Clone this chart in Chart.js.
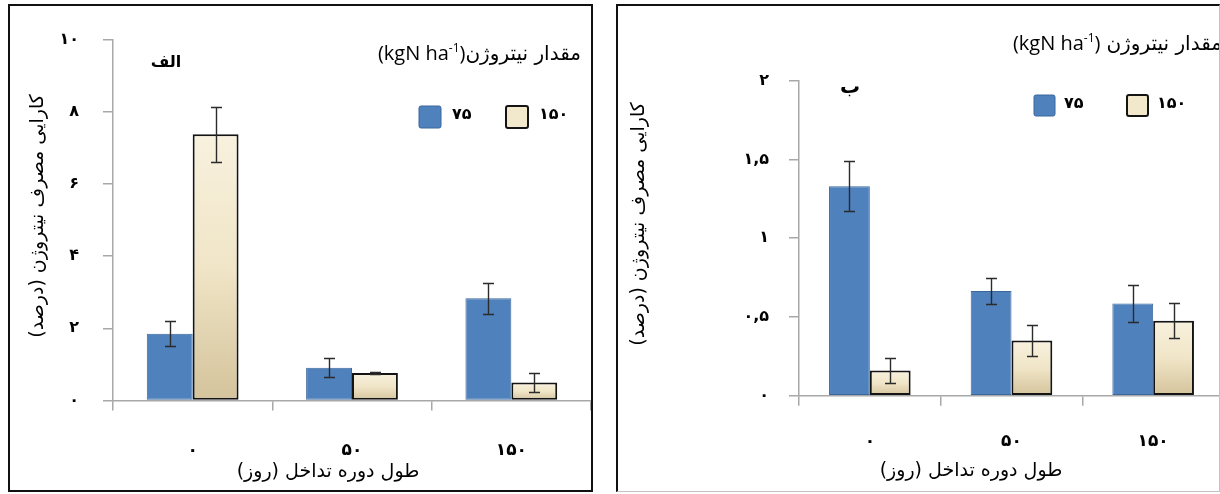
<!DOCTYPE html>
<html lang="fa">
<head>
<meta charset="utf-8">
<title>کارایی مصرف نیتروژن</title>
<script src="https://cdn.jsdelivr.net/npm/chart.js@4.4.1/dist/chart.umd.min.js"></script>
<style>
  html, body { margin: 0; padding: 0; background: #fff; }
  body { width: 1220px; height: 494px; position: relative; overflow: hidden; }
  .panel { position: absolute; box-sizing: border-box; overflow: hidden; background: #fff; }
  #panelA { left: 8px; top: 4px; width: 585px; height: 488px; border: 2px solid #111; }
  #panelB { left: 616px; top: 4px; width: 604px; height: 488px;
            border-left: 2px solid #111; border-top: 2px solid #111;
            border-right: 1px solid #c4c4c4; border-bottom: 1px solid #c4c4c4; }
  .panel canvas { position: absolute; left: 0; top: 0; }
</style>
</head>
<body>
<div class="panel" id="panelA"><canvas id="chartA" width="581" height="484"></canvas></div>
<div class="panel" id="panelB"><canvas id="chartB" width="606" height="484"></canvas></div>
<script>
// Interference period (days) and nitrogen rates (kgN/ha)
const categories = ['۰', '۵۰', '۱۵۰'];
const seriesNames = ['۷۵', '۱۵۰'];

// Panel الف: nitrogen use efficiency (%) with standard errors
const effA75  = [1.85, 0.91, 2.83];
const errA75  = [0.35, 0.27, 0.42];
const effA150 = [7.38, 0.76, 0.50];
const errA150 = [0.76, 0.03, 0.27];

// Panel ب
const effB75  = [1.33, 0.665, 0.585];
const errB75  = [0.16, 0.083, 0.12];
const effB150 = [0.16, 0.35, 0.476];
const errB150 = [0.08, 0.10, 0.11];

// Axis tick labels (Persian digits)
const yTicksA = ['۰', '۲', '۴', '۶', '۸', '۱۰'];
const yTicksB = ['۰', '۰,۵', '۱', '۱,۵', '۲'];

const yTitle = 'کارایی مصرف نیتروژن (درصد)';
const xTitle = 'طول دوره تداخل (روز)';
const legendHeading = 'مقدار نیتروژن';
const unitMain = '(kgN ha';
const unitSup = '-1';
const unitClose = ')';

const FONT = "'DejaVu Sans', 'Noto Sans', sans-serif";
const LATIN = "'Open Sans', 'DejaVu Sans', sans-serif";
const AXIS_GREY = '#a8a8a8';
const BLUE = '#4f81bd';
const BLUE_EDGE = '#3a679c';
const CREAM = '#f2e8cc';

Chart.defaults.font.family = FONT;
Chart.defaults.color = '#000';

// Cream bars shade from light at the top to tan at the base
function creamFill(c) {
  const chart = c.chart;
  if (!chart.chartArea || c.raw == null) return CREAM;
  const ys = chart.scales.y;
  const top = ys.getPixelForValue(c.raw);
  const base = ys.getPixelForValue(0);
  if (!(base > top)) return CREAM;
  const g = chart.ctx.createLinearGradient(0, top, 0, base);
  g.addColorStop(0, '#f8f1de');
  g.addColorStop(0.5, '#f0e5c7');
  g.addColorStop(1, '#d4c39b');
  return g;
}

// Error bars drawn from each dataset's "errors" through the y scale
const errorBars = {
  id: 'errorBars',
  afterDatasetsDraw(chart, args, o) {
    const ctx = chart.ctx;
    const ys = chart.scales.y;
    ctx.save();
    ctx.strokeStyle = o.color;
    ctx.lineWidth = o.width;
    chart.data.datasets.forEach((ds, i) => {
      const meta = chart.getDatasetMeta(i);
      meta.data.forEach((bar, j) => {
        const v = ds.data[j], e = ds.errors[j];
        const y1 = Math.round(ys.getPixelForValue(v + e)) + 0.5;
        const y2 = Math.round(ys.getPixelForValue(v - e)) + 0.5;
        const x = Math.round(bar.x) + 0.5;
        const h = o.cap / 2;
        ctx.beginPath();
        ctx.moveTo(x, y1); ctx.lineTo(x, y2);
        ctx.moveTo(x - h, y1); ctx.lineTo(x + h, y1);
        ctx.moveTo(x - h, y2); ctx.lineTo(x + h, y2);
        ctx.stroke();
      });
    });
    ctx.restore();
  }
};

// Legend block: heading with unit, then a swatch and label per dataset
const panelLegend = {
  id: 'panelLegend',
  afterDraw(chart, args, o) {
    const ctx = chart.ctx;
    ctx.save();
    ctx.fillStyle = '#000';
    ctx.textBaseline = 'alphabetic';

    // Persian heading, right aligned
    ctx.direction = 'rtl';
    ctx.textAlign = 'right';
    ctx.font = o.headFont;
    ctx.fillText(legendHeading, o.titleRight, o.titleBase);
    const headW = ctx.measureText(legendHeading).width;

    // Unit to its left: (kgN ha^-1)
    ctx.direction = 'ltr';
    ctx.textAlign = 'left';
    ctx.font = o.unitFont;
    const wMain = ctx.measureText(unitMain).width;
    const wClose = ctx.measureText(unitClose).width;
    ctx.font = o.supFont;
    const wSup = ctx.measureText(unitSup).width;
    let x = o.titleRight - headW - o.unitGap - (wMain + wSup + wClose);
    ctx.font = o.unitFont;
    ctx.fillText(unitMain, x, o.titleBase);
    x += wMain;
    ctx.font = o.supFont;
    ctx.fillText(unitSup, x, o.titleBase - o.supRise);
    x += wSup;
    ctx.font = o.unitFont;
    ctx.fillText(unitClose, x, o.titleBase);

    ctx.textBaseline = 'middle';
    chart.data.datasets.forEach((ds, i) => {
      const bx = o.itemX + i * o.itemGap;
      const by = o.boxTop;
      ctx.beginPath();
      if (ctx.roundRect) ctx.roundRect(bx, by, o.box, o.box, 2); else ctx.rect(bx, by, o.box, o.box);
      ctx.fillStyle = ds.legendFill;
      ctx.fill();
      ctx.lineWidth = ds.legendEdgeWidth;
      ctx.strokeStyle = ds.legendEdge;
      ctx.stroke();
      ctx.fillStyle = '#000';
      ctx.font = o.itemFont;
      ctx.textAlign = 'left';
      ctx.fillText(ds.label, bx + o.box + o.textGap, by + o.box / 2 - 2);
    });
    ctx.restore();
  }
};

// Free text: panel letter and axis titles
const panelText = {
  id: 'panelText',
  afterDraw(chart, args, o) {
    const ctx = chart.ctx;
    o.items.forEach(t => {
      ctx.save();
      ctx.translate(t.x, t.y);
      if (t.rot) ctx.rotate(t.rot);
      ctx.font = t.font;
      ctx.fillStyle = '#000';
      ctx.direction = 'rtl';
      ctx.textAlign = 'center';
      ctx.textBaseline = 'middle';
      ctx.fillText(t.text, 0, 0);
      ctx.restore();
    });
  }
};

function datasets(v75, e75, v150, e150) {
  return [
    {
      label: seriesNames[0], data: v75, errors: e75,
      backgroundColor: BLUE, borderColor: BLUE_EDGE, borderWidth: 1, borderSkipped: false,
      legendFill: BLUE, legendEdge: BLUE_EDGE, legendEdgeWidth: 1
    },
    {
      label: seriesNames[1], data: v150, errors: e150,
      backgroundColor: creamFill, borderColor: '#141414', borderWidth: 2, borderSkipped: false,
      legendFill: CREAM, legendEdge: '#141414', legendEdgeWidth: 2
    }
  ];
}

function makeChart(id, cfg) {
  return new Chart(document.getElementById(id), {
    type: 'bar',
    data: { labels: categories, datasets: datasets(...cfg.series) },
    plugins: [errorBars, panelLegend, panelText],
    options: {
      responsive: false,
      animation: false,
      devicePixelRatio: 1,
      layout: { padding: { left: 0, right: 0, top: cfg.top, bottom: 0 } },
      datasets: { bar: { barPercentage: 1, categoryPercentage: 0.576 } },
      scales: {
        x: {
          grid: { offset: true, drawOnChartArea: false, drawTicks: true, tickLength: 10,
                  color: AXIS_GREY, lineWidth: 1.5 },
          border: { color: AXIS_GREY, width: 1.5 },
          ticks: { padding: cfg.xPad, color: '#000', font: { family: FONT, size: 17, weight: 'bold' } },
          afterFit(s) { s.height = cfg.xHeight; }
        },
        y: {
          min: 0, max: cfg.max,
          grid: { drawOnChartArea: false, drawTicks: true, tickLength: 10,
                  color: AXIS_GREY, lineWidth: 1.5 },
          border: { color: AXIS_GREY, width: 1.5 },
          ticks: { stepSize: cfg.step, padding: cfg.yPad, color: '#000',
                   font: { family: FONT, size: 16, weight: 'bold' },
                   callback: (v, i) => cfg.yTicks[i] },
          afterFit(s) { s.width = cfg.yWidth; }
        }
      },
      plugins: {
        legend: { display: false },
        tooltip: { enabled: false },
        errorBars: { color: '#2b2b2b', width: 1.4, cap: 11 },
        panelLegend: cfg.legend,
        panelText: { items: cfg.texts }
      }
    }
  });
}

makeChart('chartA', {
  series: [effA75, errA75, effA150, errA150],
  max: 10, step: 2, yTicks: yTicksA,
  top: 21, yWidth: 103, xHeight: 89.5, xPad: 30, yPad: 24,
  legend: {
    headFont: `20px ${FONT}`, unitFont: `20px ${LATIN}`, supFont: `12px ${LATIN}`,
    supRise: 8, unitGap: 0,
    titleRight: 571, titleBase: 54,
    itemX: 409, itemGap: 87, boxTop: 100, box: 22, textGap: 11,
    itemFont: `bold 16px ${FONT}`
  },
  texts: [
    { text: 'الف', x: 156, y: 57, font: `bold 16px ${FONT}` },
    { text: yTitle, x: 28, y: 210, rot: -Math.PI / 2, font: `19px ${FONT}` },
    { text: xTitle, x: 318, y: 466, font: `19px ${FONT}` }
  ]
});

makeChart('chartB', {
  series: [effB75, errB75, effB150, errB150],
  max: 2, step: 0.5, yTicks: yTicksB,
  top: 74.7, yWidth: 181, xHeight: 94.3, xPad: 26, yPad: 20,
  legend: {
    headFont: `20px ${FONT}`, unitFont: `20px ${LATIN}`, supFont: `12px ${LATIN}`,
    supRise: 8, unitGap: 6,
    titleRight: 604, titleBase: 44,
    itemX: 416, itemGap: 93, boxTop: 89, box: 21, textGap: 9,
    itemFont: `bold 16px ${FONT}`
  },
  texts: [
    { text: 'ب', x: 232, y: 82, font: `bold 20px ${FONT}` },
    { text: yTitle, x: 21, y: 218, rot: -Math.PI / 2, font: `19px ${FONT}` },
    { text: xTitle, x: 353, y: 465, font: `19px ${FONT}` }
  ]
});
</script>
</body>
</html>
